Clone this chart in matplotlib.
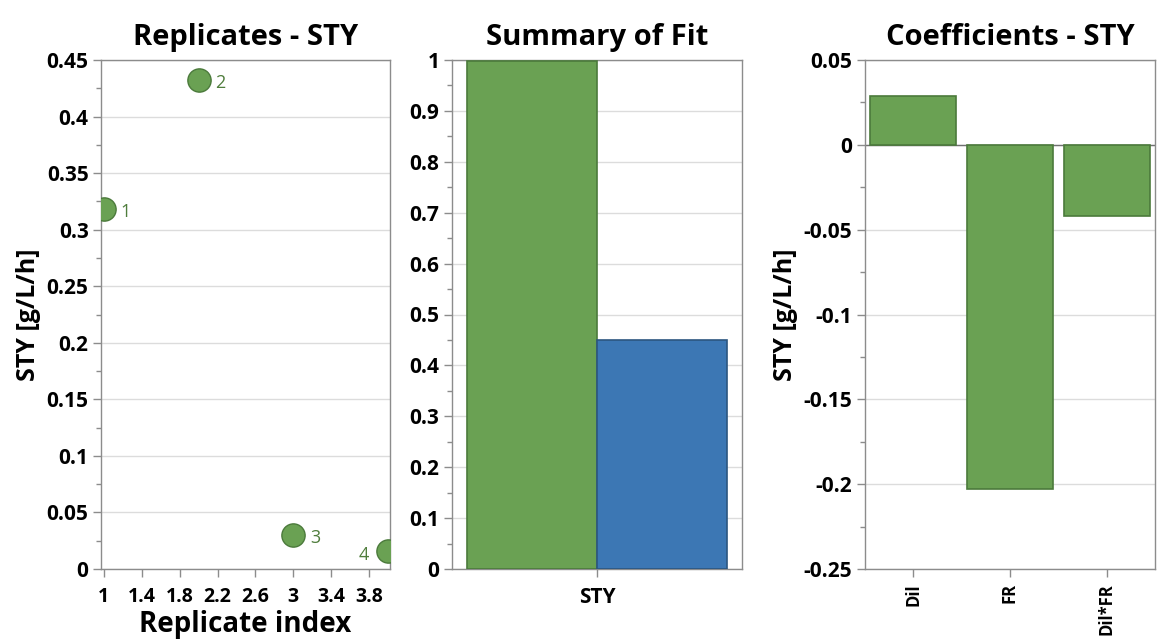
import matplotlib
matplotlib.use("Agg")
import matplotlib.pyplot as plt
from matplotlib.ticker import MultipleLocator, FixedLocator

# Replicate values
rep_index = [1, 2, 3, 4]
rep_sty = [0.318, 0.432, 0.030, 0.016]
rep_labels = ["1", "2", "3", "4"]

# Summary of fit (R2, Q2)
fit_names = ["R2", "Q2"]
fit_values = [0.998, 0.449]

# Coefficients
coef_names = ["Dil", "FR", "Dil*FR"]
coef_values = [0.029, -0.203, -0.042]

rep_ticks = [1, 1.4, 1.8, 2.2, 2.6, 3, 3.4, 3.8]
rep_tick_labels = ["1", "1.4", "1.8", "2.2", "2.6", "3", "3.4", "3.8"]

GREEN = "#6aa153"
GREEN_EDGE = "#4b7a3b"
BLUE = "#3c77b4"
BLUE_EDGE = "#2c5680"
LABEL_GREEN = "#4f7d3c"
SPINE = "#8c8c8c"
GRID = "#dcdcdc"

TITLE_SIZE = 21
YLABEL_SIZE = 18
XLABEL_SIZE = 20
TICK_SIZE = 15

plt.rcParams["font.family"] = ["Open Sans", "DejaVu Sans"]
plt.rcParams["font.weight"] = "bold"

fig = plt.figure(figsize=(11.58, 6.41), dpi=100)
W, H = 1158, 641


def make_axes(left, right, top, bottom):
    return fig.add_axes([left / W, 1 - bottom / H, (right - left) / W, (bottom - top) / H])


def style(ax):
    for s in ax.spines.values():
        s.set_color(SPINE)
        s.set_linewidth(1.0)
    ax.grid(axis="y", color=GRID, linewidth=1.0)
    ax.set_axisbelow(True)
    ax.tick_params(axis="both", which="major", direction="out", length=6, width=1,
                   color=SPINE, labelsize=TICK_SIZE, pad=3)
    ax.tick_params(axis="y", which="minor", direction="out", length=3.5, width=1, color=SPINE)
    ax.tick_params(axis="x", which="minor", bottom=False)
    for lbl in ax.get_xticklabels() + ax.get_yticklabels():
        lbl.set_fontweight("bold")


def ylabels_plain(ax, ticks):
    ax.yaxis.set_major_locator(FixedLocator(ticks))
    ax.set_yticklabels([("%g" % t) for t in ticks], fontweight="bold")


# Panel 1: replicates
ax1 = make_axes(101, 390, 60, 569)
ax1.scatter(rep_index, rep_sty, s=280, color=GREEN, edgecolor=GREEN_EDGE, linewidth=1, zorder=3,
            clip_on=True)
for x, y, t in zip(rep_index, rep_sty, rep_labels):
    if t == "4":
        ax1.annotate(t, (x, y), xytext=(-14, -3), textcoords="offset points", ha="right",
                     va="center", color=LABEL_GREEN, fontsize=13, fontweight="normal")
    else:
        ax1.annotate(t, (x, y), xytext=(12, -2), textcoords="offset points", ha="left",
                     va="center", color=LABEL_GREEN, fontsize=13, fontweight="normal")
ax1.set_xlim(0.97, 4.02)
ax1.set_ylim(0, 0.45)
ylabels_plain(ax1, [0, 0.05, 0.1, 0.15, 0.2, 0.25, 0.3, 0.35, 0.4, 0.45])
ax1.yaxis.set_minor_locator(MultipleLocator(0.025))
ax1.xaxis.set_major_locator(FixedLocator(rep_ticks))
ax1.set_xticklabels(rep_tick_labels)
ax1.set_title("Replicates - STY", fontsize=TITLE_SIZE, fontweight="bold", pad=11)
ax1.set_xlabel("Replicate index", fontsize=XLABEL_SIZE, fontweight="bold", labelpad=2)
ax1.set_ylabel("STY [g/L/h]", fontsize=YLABEL_SIZE, fontweight="bold", labelpad=4)
style(ax1)
ax1.tick_params(axis="x", pad=7, labelsize=14)

# Panel 2: summary of fit
ax2 = make_axes(452, 742, 60, 569)
ax2.bar([-0.5, 0.5], fit_values, width=1.0, color=[GREEN, BLUE],
        edgecolor=[GREEN_EDGE, BLUE_EDGE], linewidth=1.2, zorder=3)
ax2.set_xlim(-1.115, 1.115)
ax2.set_ylim(0, 1)
ylabels_plain(ax2, [0, 0.1, 0.2, 0.3, 0.4, 0.5, 0.6, 0.7, 0.8, 0.9, 1])
ax2.yaxis.set_minor_locator(MultipleLocator(0.05))
ax2.set_xticks([0])
ax2.set_xticklabels(["STY"])
ax2.set_title("Summary of Fit", fontsize=TITLE_SIZE, fontweight="bold", pad=11)
style(ax2)
ax2.tick_params(axis="x", labelsize=15, pad=7)

# Panel 3: coefficients
ax3 = make_axes(865, 1155, 60, 569)
ax3.bar(range(len(coef_names)), coef_values, width=0.89, color=GREEN, edgecolor=GREEN_EDGE,
        linewidth=1.2, zorder=3)
ax3.axhline(0, color="#707070", linewidth=1.0, zorder=2)
ax3.set_xlim(-0.5, 2.5)
ax3.set_ylim(-0.25, 0.05)
ylabels_plain(ax3, [-0.25, -0.2, -0.15, -0.1, -0.05, 0, 0.05])
ax3.yaxis.set_minor_locator(MultipleLocator(0.025))
ax3.set_xticks(range(len(coef_names)))
ax3.set_xticklabels(coef_names, rotation=90)
ax3.set_title("Coefficients - STY", fontsize=TITLE_SIZE, fontweight="bold", pad=11)
ax3.set_ylabel("STY [g/L/h]", fontsize=YLABEL_SIZE, fontweight="bold", labelpad=4)
style(ax3)
ax3.tick_params(axis="x", labelsize=12, pad=4)

fig.savefig("out.png", dpi=100)
